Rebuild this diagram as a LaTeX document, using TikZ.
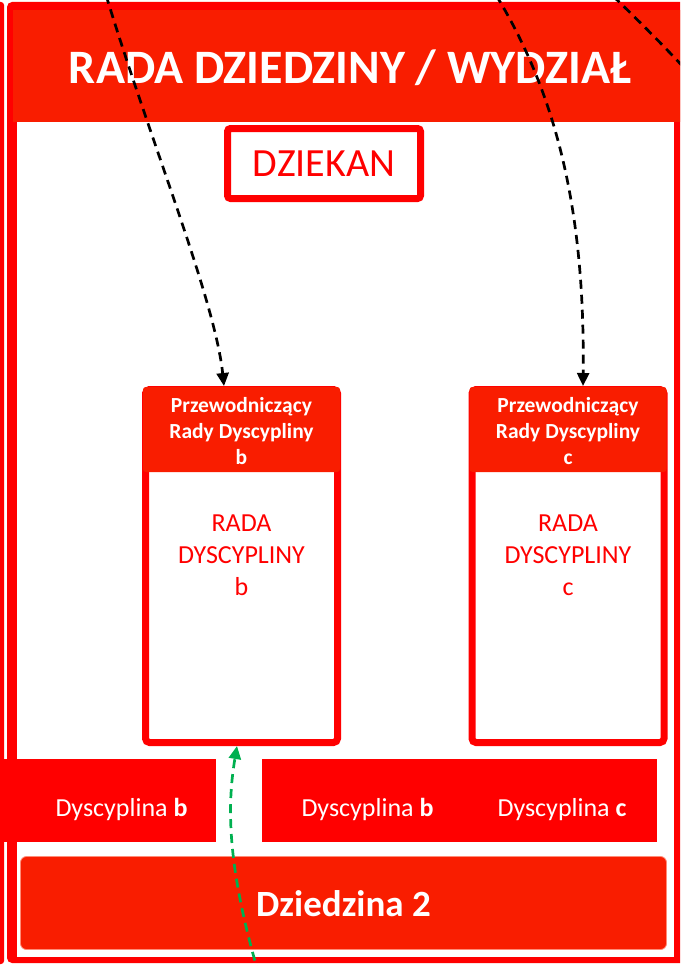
\documentclass[tikz,border=0pt]{standalone}
\usepackage{fontspec}
\setmainfont{Carlito}
\usetikzlibrary{arrows.meta}
\definecolor{rbright}{RGB}{255,0,0}
\definecolor{rhead}{RGB}{249,29,0}
\definecolor{rpale}{RGB}{255,140,120}
\definecolor{agreen}{RGB}{0,176,80}
\begin{document}
\begin{tikzpicture}[x=1pt,y=-1pt,
  every node/.style={inner sep=0pt, outer sep=0pt},
  council/.style={draw=rbright, line width=7pt, rounded corners=4pt, minimum width=192pt, minimum height=353pt},
  chairtxt/.style={text=white, align=center, font=\fontsize{21.5}{26}\selectfont\bfseries},
  counciltxt/.style={text=rbright, align=center, font=\fontsize{26}{32}\selectfont},
  discbox/.style={fill=rbright, minimum height=83pt, anchor=north west},
  disctxt/.style={text=white, anchor=base, font=\fontsize{26}{30}\selectfont},
  link/.style={black, line width=2.7pt, dash pattern=on 9pt off 6pt},
  linktip/.style={-{Triangle[length=13pt,width=12pt]}},
  greenlink/.style={agreen, line width=2.7pt, dash pattern=on 9pt off 6pt, -{Triangle[length=13pt,width=12pt]}}
]
\useasboundingbox (0,0) rectangle (680,966);
\clip (0,0) rectangle (680,966);
% outer strips / frame
\fill[rbright, rounded corners=3pt] (-20,2) rectangle (4,964);
\fill[rbright, rounded corners=5pt] (7,2) rectangle (700,963);
\fill[white] (17,122) rectangle (674,957);
% title bar
\node[fill=rhead, minimum width=690pt, minimum height=112pt, anchor=north west] (titlebar) at (13,10) {};
\node[text=white, anchor=base, font=\fontsize{48}{57}\selectfont\bfseries] (title) at (350,83) {RADA DZIEDZINY / WYDZIAŁ};
% dziekan
\node[draw=rbright, line width=7pt, rounded corners=3pt, fill=white, minimum width=193pt, minimum height=70pt,
      text=rbright, font=\fontsize{40}{48}\selectfont] (dziekan) at (324,163.5) {DZIEKAN};
% council b
\node[council] (radab) at (241.5,566) {};
\fill[rhead, rounded corners=3pt] (143,387) rectangle (340,472);
\node[chairtxt] (chairb) at (241.5,431) {Przewodniczący\\Rady Dyscypliny\\b};
\node[counciltxt] (councilb) at (241.5,555) {RADA\\DYSCYPLINY\\b};
% council c
\node[council] (radac) at (568,566) {};
\fill[rhead, rounded corners=3pt] (469.5,387) rectangle (666.5,472);
\node[chairtxt] (chairc) at (568,431) {Przewodniczący\\Rady Dyscypliny\\c};
\node[counciltxt] (councilc) at (568,555) {RADA\\DYSCYPLINY\\c};
% disciplines
\node[discbox, minimum width=216pt] (discleft) at (0,759) {};
\node[disctxt] (discbl) at (121.5,816) {Dyscyplina \textbf{b}};
\node[discbox, minimum width=395pt] (discright) at (262,759) {};
\node[disctxt] (discbr) at (367.5,816) {Dyscyplina \textbf{b}};
\node[disctxt] (disccr) at (562,816) {Dyscyplina \textbf{c}};
% dziedzina
\node[fill=rhead, draw=rpale, line width=0.8pt, rounded corners=6pt, minimum width=646pt, minimum height=93pt, anchor=north west] (dziedzina) at (20.5,856.5) {};
\node[text=white, anchor=base, font=\fontsize{37}{44}\selectfont\bfseries] (dziedzinatxt) at (343.5,916) {Dziedzina 2};
% connectors
\coordinate (s1) at (106,-5);
\coordinate (s2) at (496,-5);
\coordinate (s3) at (613,-4);
\coordinate (e3) at (700,85);
\coordinate (s4) at (259,975);
\draw[link, linktip] (s1) .. controls (150,140) and (215,300) .. ([xshift=-17.5pt,yshift=3.5pt]radab.north);
\draw[link, linktip] (s2) .. controls (560,100) and (585,220) .. ([xshift=15pt,yshift=3.5pt]radac.north);
\draw[link] (s3) .. controls (640,22) and (670,52) .. (e3);
\draw[greenlink] (s4) .. controls (225,860) and (228,800) .. ([xshift=-4.5pt,yshift=-3.5pt]radab.south);
\end{tikzpicture}
\end{document}
